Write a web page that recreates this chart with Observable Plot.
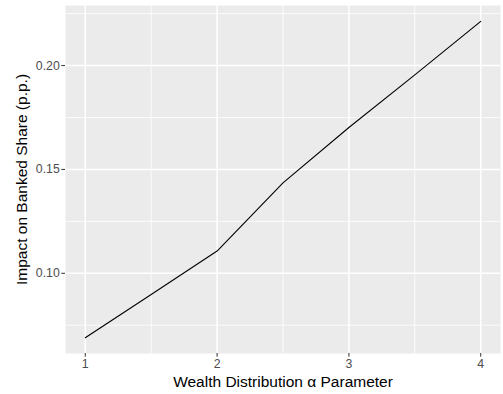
<!DOCTYPE html>
<html>
<head>
<meta charset="utf-8">
<script src="https://cdn.jsdelivr.net/npm/d3@7"></script>
<script src="https://cdn.jsdelivr.net/npm/@observablehq/plot@0.6"></script>
<style>
  html, body { margin: 0; padding: 0; background: #fff; }
  #chart svg { display: block; font-family: "Liberation Sans", Arial, sans-serif; }
</style>
</head>
<body>
<div id="chart"></div>
<script>
const alphaValues = [1, 1.5, 2, 2.5, 3, 3.5, 4];
const impactValues = [0.069, 0.0898, 0.1107, 0.1435, 0.1702, 0.1955, 0.2213];
const xTicks = [1, 2, 3, 4];
const xMinor = [1.5, 2.5, 3.5];
const yTicks = [0.10, 0.15, 0.20];
const yMinor = [0.075, 0.125, 0.175, 0.225];
const xTitle = "Wealth Distribution \u03b1 Parameter";
const yTitle = "Impact on Banked Share (p.p.)";

const data = alphaValues.map((a, i) => ({alpha: a, impact: impactValues[i]}));

const xExt = d3.extent(alphaValues), xPad = (xExt[1] - xExt[0]) * 0.05;
const yExt = d3.extent(impactValues), yPad = (yExt[1] - yExt[0]) * 0.05;

const chart = Plot.plot({
  width: 503,
  height: 394,
  marginLeft: 65,
  marginRight: 3,
  marginTop: 5,
  marginBottom: 41,
  style: {fontFamily: "Liberation Sans, Arial, sans-serif", background: "#fff"},
  x: {domain: [xExt[0] - xPad, xExt[1] + xPad]},
  y: {domain: [yExt[0] - yPad, yExt[1] + yPad]},
  marks: [
    Plot.frame({fill: "#EBEBEB", stroke: null}),
    Plot.ruleY(yMinor, {stroke: "#fff", strokeWidth: 0.8}),
    Plot.ruleX(xMinor, {stroke: "#fff", strokeWidth: 0.8}),
    Plot.ruleY(yTicks, {stroke: "#fff", strokeWidth: 1.5}),
    Plot.ruleX(xTicks, {stroke: "#fff", strokeWidth: 1.5}),
    Plot.line(data, {x: "alpha", y: "impact", stroke: "#000", strokeWidth: 1.1}),
    Plot.axisX(xTicks, {tickSize: 3.7, tickPadding: 2.5, stroke: "#333", color: "#4D4D4D", fontSize: 12.3, tickFormat: d => String(d), label: null}),
    Plot.axisY(yTicks, {tickSize: 3.7, tickPadding: 2, stroke: "#333", color: "#4D4D4D", fontSize: 12.3, tickFormat: d3.format(".2f"), label: null}),
    Plot.text([xTitle], {frameAnchor: "bottom", dy: 33, fontSize: 15.5, fill: "#000"}),
    Plot.text([yTitle], {frameAnchor: "left", dx: -43, rotate: -90, textAnchor: "middle", fontSize: 15.5, fill: "#000"})
  ]
});
document.getElementById("chart").appendChild(chart);
</script>
</body>
</html>
